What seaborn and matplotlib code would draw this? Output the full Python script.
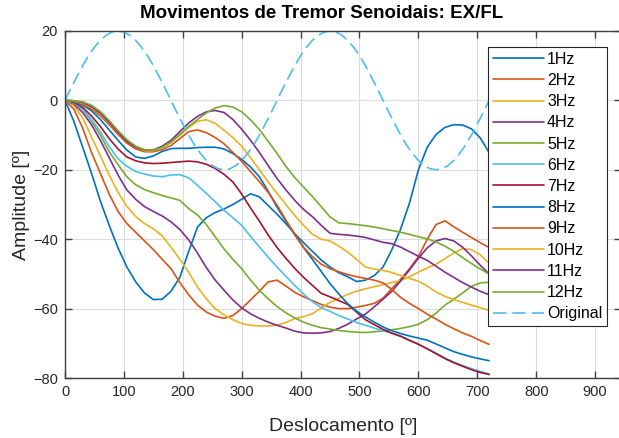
import matplotlib
matplotlib.use("Agg")
import matplotlib.pyplot as plt
import seaborn as sns
import pandas as pd

deg = [0, 15, 30, 45, 60, 75, 90, 105, 120, 135, 150, 165, 180,
       195, 210, 225, 240, 255, 270, 285, 300, 315, 330, 345, 360,
       375, 390, 405, 420, 435, 450, 465, 480, 495, 510, 525, 540,
       555, 570, 585, 600, 615, 630, 645, 660, 675, 690, 705, 720]

hz1 = [0, -6, -13.5, -21, -29, -36, -42.5, -48, -52.3, -55.5, -57.4, -57.3, -55,
       -51, -43.5, -36.5, -33.8, -32.3, -31.3, -30, -28.5, -26.9, -27.8, -30.3, -32.8,
       -35.5, -38.4, -41, -43.5, -46, -48, -49.7, -50.8, -52.2, -51.8, -50.5, -48,
       -43, -37, -29.5, -20, -13.5, -9.8, -7.8, -7, -7.1, -8.2, -10.8, -15]
hz2 = [0, -2.5, -8, -15, -21, -27, -32, -35.5, -38, -40.5, -43, -45.8, -48.5,
       -52.5, -56, -59, -61, -62.2, -62.8, -62, -60, -57.5, -55, -52.3, -51.8,
       -53.5, -55.3, -56.6, -57.7, -58.8, -59.6, -60, -60, -59.6, -59.1, -58.5, -57,
       -54.2, -51.5, -48.5, -45, -40, -35.8, -34.7, -36.4, -38, -39.5, -41, -42.4]
hz3 = [0, -1.5, -5, -10.5, -16, -21.5, -26.5, -30.5, -33.5, -35.5, -37, -39, -42.3,
       -45.8, -49.5, -53.8, -57.2, -60, -61.8, -63.2, -64.3, -64.8, -65, -65, -64.8,
       -64, -62.9, -62.3, -61.5, -59.8, -58.2, -57, -55.9, -55, -54.3, -53.7, -53.1,
       -52.5, -51.9, -50.8, -49.5, -48.3, -47.2, -45.6, -44, -42.7, -43, -44.5, -47]
hz4 = [0, -1, -3.5, -7, -11.5, -16.5, -21.5, -25.8, -28.5, -30.6, -32, -33.3, -35,
       -37.2, -40.2, -44, -48.2, -51.8, -54.7, -57.5, -59.8, -61.5, -62.8, -63.9, -64.8,
       -65.6, -66.5, -67, -67.1, -67, -66.6, -65.7, -64.5, -63, -61.6, -59.5, -57.3,
       -55, -52, -48.8, -45.5, -42.5, -40.5, -39.8, -40.5, -42.3, -44.8, -47.5, -50]
hz5 = [0, -0.7, -2.5, -6, -10, -14.8, -18.5, -22, -24.3, -25.7, -26.6, -27.4, -28.1,
       -28.8, -31.2, -33, -35.8, -39.3, -42.8, -45.8, -48.5, -51.8, -54.7, -57.2, -59.4,
       -61.2, -62.7, -63.9, -64.8, -65.5, -65.9, -66.3, -66.6, -66.8, -66.9, -66.7, -66.4,
       -66.1, -65.7, -65.2, -64.5, -63.2, -61.3, -59, -57.3, -55.5, -53.6, -52.6, -52.4]
hz6 = [0, -0.7, -2.5, -5.5, -9, -13.3, -16.8, -19, -20.5, -21.2, -21.8, -22, -21.5,
       -21.4, -22.3, -24.5, -26.8, -29.2, -31.7, -33.8, -36, -39.2, -42.2, -45.2, -48,
       -50.7, -53.3, -55.8, -58, -59.7, -60.8, -62, -63, -64, -64.8, -65.6, -66.4,
       -67.1, -67.9, -69, -70.2, -71.5, -72.8, -74.2, -75.4, -76.4, -77.3, -78.1, -78.8]
hz7 = [0, -0.5, -2, -4.5, -7.5, -11, -14, -16.3, -17.4, -18, -18.2, -18.1, -17.9,
       -17.7, -17.5, -17.7, -18.4, -19.6, -21.3, -23.5, -27, -31, -34.8, -38.8, -42.4,
       -45.5, -48.4, -51, -53.3, -55.6, -56.6, -57.7, -58.8, -61, -63.2, -64.6, -66,
       -67.1, -68, -69.2, -70.3, -71.6, -73, -74.4, -75.6, -76.6, -77.6, -78.4, -79]
hz8 = [0, -0.3, -1.3, -3, -5.5, -8.5, -11.5, -14.3, -16.3, -16.7, -16, -14.7, -13.9,
       -13.8, -13.8, -13.6, -13.5, -13.5, -14, -15.3, -17, -19.2, -22, -26.2, -30.8,
       -34.8, -38.7, -42.4, -45.8, -49.3, -52.8, -55.8, -58.6, -60.7, -62.4, -63.9, -65.3,
       -66.4, -67.2, -67.9, -68.5, -69.1, -70.2, -71.3, -72.4, -73.2, -73.9, -74.5, -75]
hz9 = [0, -0.2, -1, -2.5, -4.5, -7, -9.8, -12.3, -14, -14.8, -14.8, -14.2, -13,
       -11, -9, -8.5, -9.3, -10.7, -12.5, -15, -17.6, -20.5, -23.4, -26.5, -30.2,
       -34.5, -38.5, -42.3, -45, -47.2, -48.5, -49.4, -50.2, -50.8, -51.3, -51.8, -52.6,
       -54.5, -56.8, -58.5, -60, -61.6, -63, -64.5, -65.8, -67, -68, -69.2, -70.3]
hz10 = [0, -0.2, -0.8, -2, -4, -6.5, -9.3, -11.8, -13.6, -14.5, -14.5, -13.6, -12.2,
        -10, -7.8, -6, -5.6, -6.6, -8.6, -10.7, -13.2, -16.5, -20, -23.5, -26.8,
        -30, -33.2, -36, -38.6, -40, -40.5, -42, -43.7, -45.8, -48, -48.6, -49,
        -49.6, -50.5, -51.3, -52.1, -53.5, -55.2, -56.5, -57.4, -58.2, -59, -59.7, -60.5]
hz11 = [0, -0.1, -0.6, -1.8, -3.7, -6.3, -9.2, -11.8, -13.5, -14.3, -14.3, -13.2, -11.5,
        -9, -6.5, -4.6, -3.3, -2.9, -3.5, -5.5, -8.3, -11.5, -15, -18.8, -22.5,
        -25.8, -28.8, -31.4, -33.5, -36, -38.3, -38.6, -38.8, -39.1, -39.5, -40.2, -40.9,
        -41.3, -42.3, -43.6, -44.9, -46.1, -47.8, -49.5, -51, -52.5, -53.8, -55, -56]
hz12 = [0, -0.1, -0.4, -1.4, -3.2, -5.8, -8.7, -11.3, -13.2, -14.2, -14.4, -13.5, -12,
        -9.8, -7.5, -5.5, -3.6, -2.2, -1.5, -1.9, -3.3, -5.6, -8.4, -11.8, -15.3,
        -19, -22.2, -25, -27.7, -30.6, -33.6, -35.3, -35.5, -35.8, -36.1, -36.5, -37,
        -37.5, -38, -38.6, -39.3, -39.9, -40.8, -42, -43.5, -45.3, -47, -48.6, -50]

orig_deg = [0, 10, 20, 30, 40, 50, 60, 70, 80, 90, 100, 110, 120, 130, 140, 150,
            160, 170, 180, 190, 200, 210, 220, 230, 240, 250, 260, 270, 280, 290,
            300, 310, 320, 330, 340, 350, 360, 370, 380, 390, 400, 410, 420, 430,
            440, 450, 460, 470, 480, 490, 500, 510, 520, 530, 540, 550, 560, 570,
            580, 590, 600, 610, 620, 630, 640, 650, 660, 670, 680, 690, 700, 710, 720]
original = [0, 3.5, 6.8, 10, 12.9, 15.3, 17.3, 18.8, 19.7, 20, 19.7, 18.8, 17.3,
            15.3, 12.9, 10, 6.8, 3.5, 0, -3.5, -6.8, -10, -12.9, -15.3, -17.3,
            -18.8, -19.7, -20, -19.7, -18.8, -17.3, -15.3, -12.9, -10, -6.8, -3.5,
            0, 3.5, 6.8, 10, 12.9, 15.3, 17.3, 18.8, 19.7, 20, 19.7, 18.8, 17.3,
            15.3, 12.9, 10, 6.8, 3.5, 0, -3.5, -6.8, -10, -12.9, -15.3, -17.3,
            -18.8, -19.7, -20, -19.7, -18.8, -17.3, -15.3, -12.9, -10, -6.8, -3.5, 0]

labels = ["1Hz", "2Hz", "3Hz", "4Hz", "5Hz", "6Hz", "7Hz", "8Hz", "9Hz",
          "10Hz", "11Hz", "12Hz"]
series = [hz1, hz2, hz3, hz4, hz5, hz6, hz7, hz8, hz9, hz10, hz11, hz12]
xticks = [0, 100, 200, 300, 400, 500, 600, 700, 800, 900]
yticks = [-80, -60, -40, -20, 0, 20]

colors = ['#0072BD', '#D95319', '#EDB120', '#7E2F8E', '#77AC30', '#4DBEEE',
          '#A2142F', '#0072BD', '#D95319', '#EDB120', '#7E2F8E', '#77AC30']
orig_color = '#4DBEEE'

sns.set_theme(style="white")
plt.rcParams['font.family'] = ['Liberation Sans', 'DejaVu Sans']

W, H = 619, 438
fig = plt.figure(figsize=(W / 100, H / 100), dpi=100)
left, right, top, bottom = 65, 621, 31, 378
ax = fig.add_axes([left / W, 1 - bottom / H, (right - left) / W, (bottom - top) / H])

lw = 1.2
for lab, ys, c in zip(labels, series, colors):
    df = pd.DataFrame({"deg": deg, "amp": ys})
    sns.lineplot(data=df, x="deg", y="amp", color=c, lw=lw, ax=ax, label=lab,
                 sort=False, estimator=None)
dfo = pd.DataFrame({"deg": orig_deg, "amp": original})
sns.lineplot(data=dfo, x="deg", y="amp", color=orig_color, lw=lw, ax=ax,
             label="Original", sort=False, estimator=None)
ax.lines[-1].set_linestyle((0, (7.5, 3.5)))

ax.set_xlim(0, (right - left) / 0.589)
ax.set_ylim(-80, 20)
ax.set_xticks(xticks)
ax.set_yticks(yticks)
ax.grid(True, color='#dcdcdc', lw=0.8)
ax.set_axisbelow(True)
for s in ax.spines.values():
    s.set_color('#404040')
    s.set_linewidth(1.0)
ax.tick_params(direction='in', length=5, width=1.0, color='#404040',
               labelsize=10.5, labelcolor='#262626', top=True, right=True,
               bottom=True, left=True, pad=5)

ax.set_xlabel("Deslocamento [º]", fontsize=14, color='#262626', labelpad=14)
ax.set_ylabel("Amplitude [º]", fontsize=14, color='#262626', labelpad=2)
fig.text(322 / W, 1 - 13 / H, "Movimentos de Tremor Senoidais: EX/FL",
         ha='center', va='center', fontsize=13.5, fontweight='bold', color='black')

leg = ax.legend(loc='upper right', bbox_to_anchor=(607 / W, 1 - 47 / H),
                bbox_transform=fig.transFigure, borderaxespad=0,
                fontsize=11.5, frameon=True, fancybox=False, framealpha=1,
                edgecolor='#262626', labelspacing=0.39, handlelength=3.2,
                handletextpad=0.2, borderpad=0.29)
leg.get_frame().set_linewidth(0.8)
for t in leg.get_texts():
    t.set_color('#000000')
leg.get_lines()[-1].set_linestyle((0, (8.0, 3.6)))

fig.savefig("out.png", dpi=100)
